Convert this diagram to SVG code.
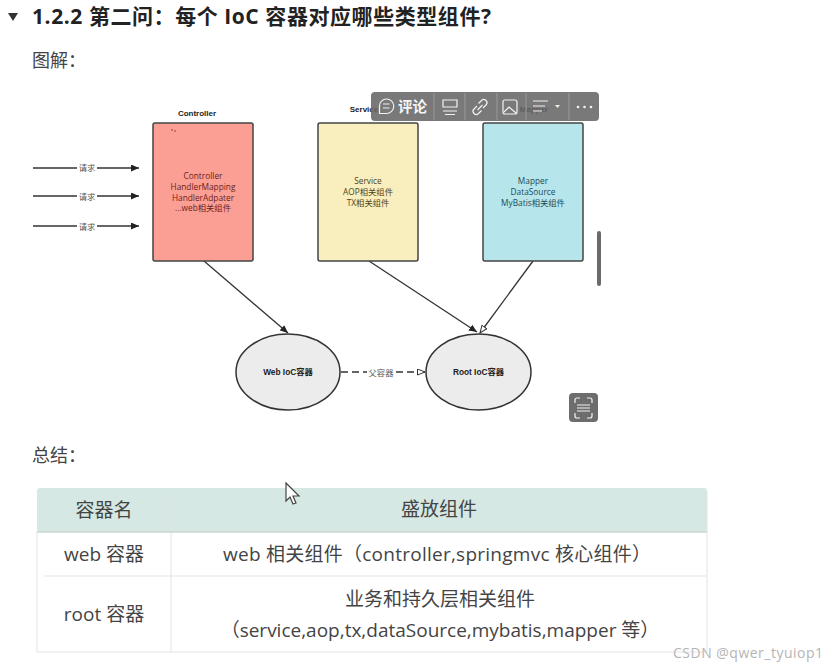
<svg xmlns="http://www.w3.org/2000/svg" width="831" height="668" viewBox="0 0 831 668">
<style>
text{font-family:"Open Sans","Noto Sans CJK SC",sans-serif}
.h{font-size:21px;font-weight:700;fill:#222}
.p{font-size:18px;fill:#444}
.box{stroke:#444;stroke-width:1.5}
.cap,.in,.lab,.en{font-family:"Liberation Sans","Noto Sans CJK SC",sans-serif;text-anchor:middle}
.cap{font-size:8px;font-weight:700;fill:#222}
.in{font-size:8.3px}
.lab{font-size:8.300px;fill:#555}
.ell{fill:#ececec;stroke:#333;stroke-width:1.5}
.en{font-size:8.300px;font-weight:700;fill:#222}
.ln{stroke:#333;stroke-width:1.3;fill:none}
.th{font-size:19px;fill:#444;text-anchor:middle}
.td{font-size:19px;fill:#444;text-anchor:middle}
.tbg{fill:#666;fill-opacity:.88}
.ic{fill:none;stroke:#f2f2f2;stroke-width:1.2}
.sep{stroke:#9a9a9a;stroke-width:1}
.grid{stroke:#e3e3e3;stroke-width:1;fill:none}
</style>
<defs>
<marker id="a" markerWidth="9" markerHeight="7" refX="8" refY="3.5" orient="auto" markerUnits="userSpaceOnUse"><path d="M0 0L8 3.5L0 7z" fill="#222"/></marker>
<marker id="o" markerWidth="9" markerHeight="7" refX="8" refY="3.5" orient="auto" markerUnits="userSpaceOnUse"><path d="M0.5 0.5L8 3.5L0.5 6.5z" fill="#fff" stroke="#333"/></marker>
</defs>
<rect width="831" height="668" fill="#fff"/>
<path d="M8 13H18L13 21z" fill="#333"/>
<text class="h" x="32" y="24" textLength="459" lengthAdjust="spacing">1.2.2 第二问：每个 IoC 容器对应哪些类型组件?</text>
<text class="p" x="32" y="67">图解：</text>
<text class="p" x="32" y="462">总结：</text>

<g id="connectors">
<g class="ln">
<path d="M33 168H139" marker-end="url(#a)"/>
<path d="M33 196H139" marker-end="url(#a)"/>
<path d="M33 226H139" marker-end="url(#a)"/>
<path d="M204 261L288 333" marker-end="url(#a)"/>
<path d="M369 261L477 332" marker-end="url(#a)"/>
<path d="M533 261L480 333" marker-end="url(#o)"/>
<path d="M341 372H425" stroke-dasharray="7 4" stroke-width="1.5" marker-end="url(#o)"/>
</g>
<g>
<rect x="77" y="163" width="20" height="10" fill="#fff"/><text class="lab" x="87" y="171">请求</text>
<rect x="77" y="191" width="20" height="10" fill="#fff"/><text class="lab" x="87" y="199.500">请求</text>
<rect x="77" y="221" width="20" height="10" fill="#fff"/><text class="lab" x="87" y="229.500">请求</text>
<rect x="367" y="367" width="28" height="10" fill="#fff"/><text class="lab" x="381" y="375.500">父容器</text>
</g>
</g>

<g id="controller">
<text class="cap" x="197" y="116">Controller</text>
<rect class="box" x="153" y="123" width="100" height="138" rx="2" fill="#fb9f95"/>
<path d="M172 129v2M174 131h2" stroke="#6b1e18" stroke-width=".7"/>
<g class="in" fill="#6b1e18">
<text x="203" y="179">Controller</text>
<text x="203" y="190">HandlerMapping</text>
<text x="203" y="201">HandlerAdpater</text>
<text x="203" y="211">...web相关组件</text>
</g>
</g>
<g id="service">
<text class="cap" x="364" y="112">Service</text>
<rect class="box" x="318" y="123" width="100" height="138" rx="2" fill="#f9eebd"/>
<g class="in" fill="#4d4520">
<text x="368" y="184">Service</text>
<text x="368" y="195">AOP相关组件</text>
<text x="368" y="206">TX相关组件</text>
</g>
</g>
<g id="mapper">
<text class="cap" x="534" y="112">Mapper</text>
<rect class="box" x="483" y="123" width="100" height="138" rx="2" fill="#b6e5ec"/>
<g class="in" fill="#1e4a55">
<text x="533" y="184">Mapper</text>
<text x="533" y="195">DataSource</text>
<text x="533" y="206">MyBatis相关组件</text>
</g>
</g>
<g id="web-ioc">
<ellipse class="ell" cx="288" cy="372" rx="52" ry="38"/>
<text class="en" x="288" y="375">Web IoC容器</text>
</g>
<g id="root-ioc">
<ellipse class="ell" cx="478.500" cy="372" rx="52.500" ry="38"/>
<text class="en" x="478.500" y="375">Root IoC容器</text>
</g>

<g id="toolbar">
<rect class="tbg" x="371" y="92" width="228" height="29" rx="4"/>
<path class="sep" d="M434 93V120M465 93V120M497 93V120M526 93V120M569 93V120"/>
<path class="ic" d="M386.500 99a7 7 0 0 1 0 14.500h-7v-7.500a7 7 0 0 1 7-7zM383 104h6.500M383 108h6.500"/>
<text x="398" y="112" font-size="14.500" font-weight="700" fill="#f5f5f5">评论</text>
<path class="ic" d="M443 100h14v7h-14zM443 111h14M445 114.500h10"/>
<path class="ic" d="M477 106l-3 3a3 3 0 0 0 4.500 4.500l3-3M483 108l3-3a3 3 0 0 0-4.500-4.500l-3 3M477.500 110l5-5"/>
<rect class="ic" x="503" y="100" width="14" height="14" rx="2"/>
<path class="ic" d="M504 112l5-5 7 6"/>
<path class="ic" d="M533 101h15M533 106h12M533 111h9"/>
<path d="M555 105h5l-2.500 3z" fill="#eee"/>
<g fill="#f2f2f2"><circle cx="578" cy="107" r="1.300"/><circle cx="584.500" cy="107" r="1.300"/><circle cx="591" cy="107" r="1.300"/></g>
</g>
<rect id="scrollbar" x="597" y="231" width="4" height="55" rx="2" fill="#6a6a6a"/>
<g id="scan">
<rect x="569" y="393" width="29" height="29" rx="4" fill="#6d6d6d"/>
<path class="ic" d="M575 403v-3a2 2 0 0 1 2-2h3M587 398h3a2 2 0 0 1 2 2v3M592 413v3a2 2 0 0 1-2 2h-3M580 418h-3a2 2 0 0 1-2-2v-3M577 405h13M577 408h13M577 411h13"/>
</g>

<g id="table">
<rect x="37" y="488" width="670" height="44" rx="3" fill="#d5e8e3"/>
<path class="grid" d="M171 489V652M44 576H706M707 492V652M37 532V652M37 652H707" />
<path d="M37 532H707" stroke="#c9d6d2" stroke-width="1.500"/>
<text class="th" x="104" y="517">容器名</text>
<text class="th" x="439" y="516">盛放组件</text>
<text class="td" x="104" y="561">web 容器</text>
<text class="td" x="437" y="561" textLength="428" lengthAdjust="spacing">web 相关组件（controller,springmvc 核心组件）</text>
<text class="td" x="104" y="621">root 容器</text>
<text class="td" x="440" y="606">业务和持久层相关组件</text>
<text class="td" x="440" y="637">（service,aop,tx,dataSource,mybatis,mapper 等）</text>
</g>

<path id="cursor" d="M286 483V501L290 497L293 504L296 503L293 496H299z" fill="#fff" stroke="#444" stroke-width="1.200"/>
<text x="673" y="658" font-size="14" fill="#b5b5b5" textLength="150" lengthAdjust="spacing">CSDN @qwer_tyuiop1</text>
</svg>
